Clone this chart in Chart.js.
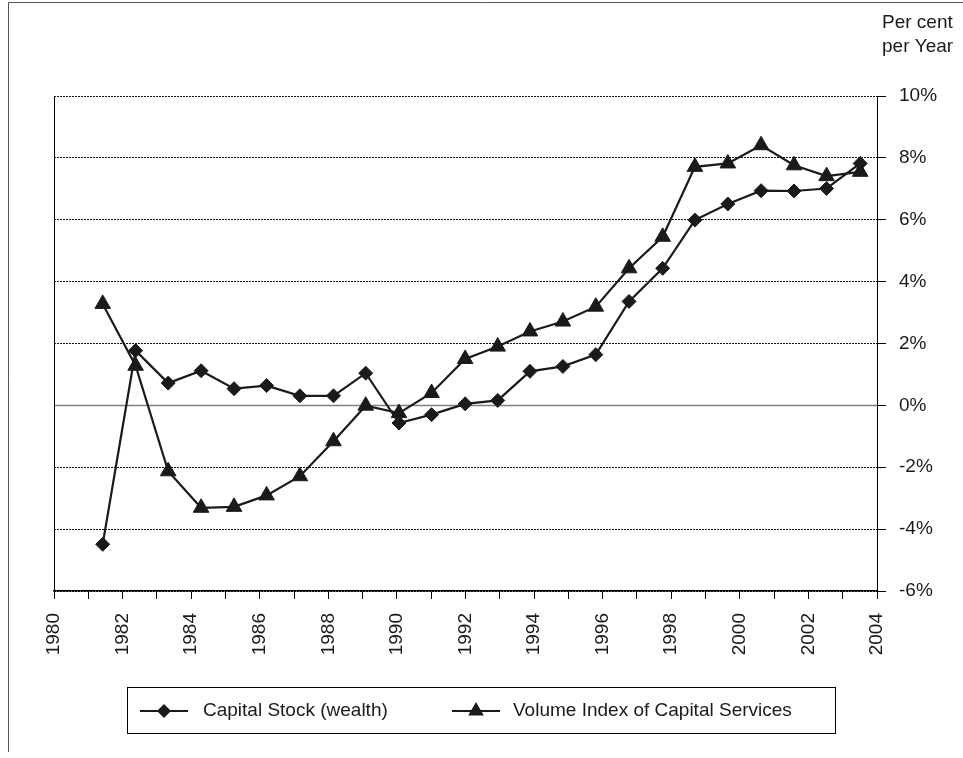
<!DOCTYPE html>
<html>
<head>
<meta charset="utf-8">
<script src="https://cdn.jsdelivr.net/npm/chart.js@4.4.0/dist/chart.umd.min.js"></script>
<style>
  html, body { margin: 0; padding: 0; background: #fff; }
  #wrap { width: 963px; height: 758px; }
</style>
</head>
<body>
<div id="wrap"><canvas id="myChart" width="963" height="758"></canvas></div>
<script>
// years (points sit part-way through each year)
const years = [1981.42, 1982.38, 1983.33, 1984.29, 1985.25, 1986.20, 1987.17, 1988.15,
  1989.09, 1990.06, 1991.01, 1991.99, 1992.94, 1993.88, 1994.84, 1995.80,
  1996.77, 1997.75, 1998.69, 1999.65, 2000.62, 2001.58, 2002.53, 2003.51];

// per cent per year
const capitalStock = [-4.49, 1.77, 0.72, 1.12, 0.54, 0.64, 0.31, 0.31,
  1.04, -0.57, -0.30, 0.05, 0.16, 1.10, 1.26, 1.64,
  3.36, 4.43, 5.99, 6.51, 6.94, 6.93, 7.01, 7.82];

const capitalServices = [3.28, 1.28, -2.13, -3.31, -3.28, -2.91, -2.29, -1.16,
  -0.01, -0.25, 0.40, 1.50, 1.90, 2.39, 2.71, 3.19,
  4.43, 5.45, 7.71, 7.82, 8.41, 7.76, 7.41, 7.55];

const seriesNames = ['Capital Stock (wealth)', 'Volume Index of Capital Services'];
const axisTitle = ['Per cent', 'per Year'];

const FONT = "'Liberation Sans', Arial, sans-serif";
const INK = '#1a1a1a';

function pairs(vals) {
  return years.map((x, i) => ({ x: x, y: vals[i] }));
}

const extras = {
  id: 'extras',
  beforeDatasetsDraw(chart) {
    const ctx = chart.ctx;
    const area = chart.chartArea;
    const y0 = chart.scales.y.getPixelForValue(0);
    ctx.save();
    // solid grey zero line
    ctx.strokeStyle = '#808080';
    ctx.lineWidth = 1.5;
    ctx.beginPath();
    ctx.moveTo(area.left, y0);
    ctx.lineTo(area.right, y0);
    ctx.stroke();
    // left and right edges of plot, solid
    ctx.strokeStyle = '#000';
    ctx.lineWidth = 1;
    ctx.beginPath();
    ctx.moveTo(area.left + 0.5, area.top);
    ctx.lineTo(area.left + 0.5, area.bottom);
    ctx.moveTo(area.right + 0.5, area.top);
    ctx.lineTo(area.right + 0.5, area.bottom + 8);
    ctx.stroke();
    ctx.restore();
  },
  afterDraw(chart) {
    const ctx = chart.ctx;
    ctx.save();
    // outer frame (top and left only)
    ctx.strokeStyle = '#555';
    ctx.lineWidth = 1;
    ctx.beginPath();
    ctx.moveTo(8.5, 752);
    ctx.lineTo(8.5, 2.5);
    ctx.lineTo(963, 2.5);
    ctx.stroke();

    // axis title
    ctx.fillStyle = INK;
    ctx.font = '19px ' + FONT;
    ctx.textAlign = 'left';
    ctx.textBaseline = 'middle';
    ctx.fillText(axisTitle[0], 882, 23);
    ctx.fillText(axisTitle[1], 882, 47);

    // legend box
    ctx.strokeStyle = '#000';
    ctx.lineWidth = 1;
    ctx.strokeRect(127.5, 687.5, 708, 46);
    const ly = 711;
    ctx.lineWidth = 2;
    ctx.strokeStyle = INK;
    ctx.beginPath();
    ctx.moveTo(140, ly); ctx.lineTo(188, ly);
    ctx.moveTo(452, ly); ctx.lineTo(500, ly);
    ctx.stroke();
    // diamond
    ctx.fillStyle = INK;
    ctx.beginPath();
    ctx.moveTo(164 - 7, ly); ctx.lineTo(164, ly - 7);
    ctx.lineTo(164 + 7, ly); ctx.lineTo(164, ly + 7);
    ctx.closePath(); ctx.fill();
    // triangle
    ctx.beginPath();
    ctx.moveTo(476, ly - 9);
    ctx.lineTo(476 + 7.8, ly + 4.5);
    ctx.lineTo(476 - 7.8, ly + 4.5);
    ctx.closePath(); ctx.fill();
    ctx.fillText(seriesNames[0], 203, ly);
    ctx.fillText(seriesNames[1], 513, ly);
    ctx.restore();
  }
};

const myChart = new Chart(document.getElementById('myChart').getContext('2d'), {
  type: 'line',
  data: {
    datasets: [
      {
        label: seriesNames[0],
        data: pairs(capitalStock),
        borderColor: INK,
        backgroundColor: INK,
        borderWidth: 2.2,
        pointStyle: 'rectRot',
        pointRadius: 7,
        pointBorderWidth: 1,
        pointBackgroundColor: INK,
        pointBorderColor: INK,
        tension: 0
      },
      {
        label: seriesNames[1],
        data: pairs(capitalServices),
        borderColor: INK,
        backgroundColor: INK,
        borderWidth: 2.2,
        pointStyle: 'triangle',
        pointRadius: 9,
        pointBorderWidth: 1,
        pointBackgroundColor: INK,
        pointBorderColor: INK,
        tension: 0
      }
    ]
  },
  options: {
    responsive: false,
    animation: false,
    layout: { padding: { left: 54, top: 96, right: 0, bottom: 0 } },
    plugins: {
      legend: { display: false },
      tooltip: { enabled: false },
      title: { display: false }
    },
    scales: {
      x: {
        type: 'linear',
        min: 1980,
        max: 2004,
        afterFit: s => { s.height = 167; },
        border: { display: true, color: '#000', width: 1.5 },
        grid: { drawOnChartArea: false, drawTicks: true, tickLength: 8, tickColor: '#000', tickWidth: 1 },
        ticks: {
          stepSize: 1,
          autoSkip: false,
          minRotation: 90,
          maxRotation: 90,
          padding: 14,
          color: INK,
          font: { family: FONT, size: 19 },
          callback: v => (v % 2 === 0 ? String(v) : '')
        }
      },
      y: {
        position: 'right',
        min: -6,
        max: 10,
        afterFit: s => { s.width = 86; },
        border: { display: false, dash: [2, 1] },
        grid: {
          color: c => (c.tick && c.tick.value === 0 ? 'rgba(0,0,0,0)' : '#111'),
          lineWidth: 1,
          drawTicks: true,
          tickLength: 9,
          tickColor: '#000',
          tickBorderDash: [],
          tickWidth: 1
        },
        ticks: {
          stepSize: 2,
          padding: 13,
          color: INK,
          font: { family: FONT, size: 19 },
          callback: v => v + '%'
        }
      }
    }
  },
  plugins: [extras]
});
</script>
</body>
</html>
